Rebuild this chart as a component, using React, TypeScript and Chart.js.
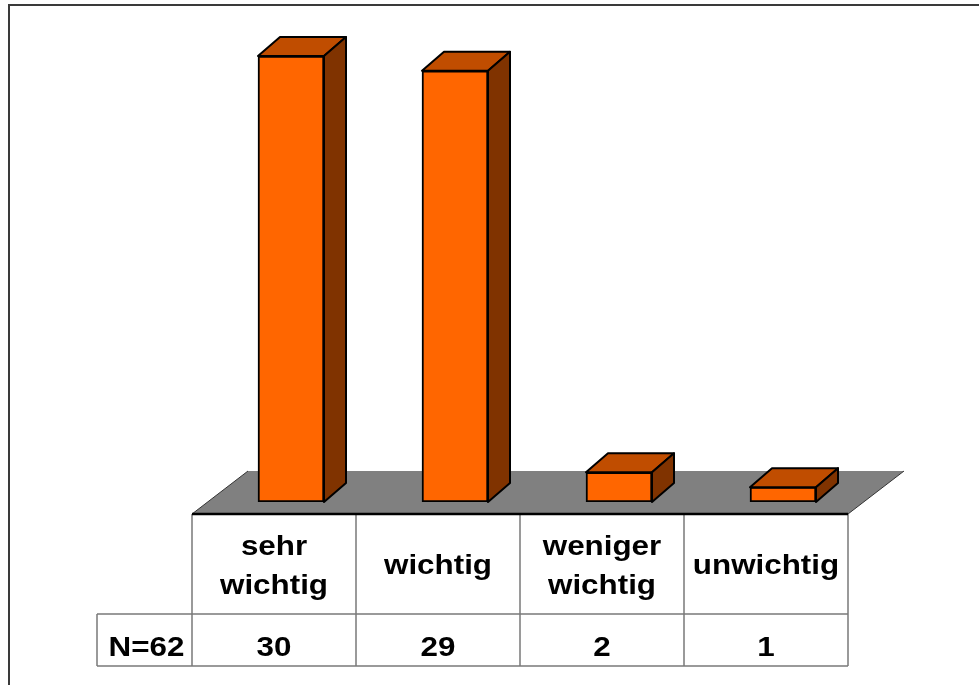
import React, { useEffect, useRef } from "react";
import { Chart, registerables } from "chart.js";

Chart.register(...registerables);

// Answer categories (multi-line labels as arrays) and response counts
const categories: (string | string[])[] = [["sehr", "wichtig"], "wichtig", ["weniger", "wichtig"], "unwichtig"];
const counts: number[] = [30, 29, 2, 1];
const sampleLabel = "N=62";

const FRONT = "#FF6600";
const TOP = "#C04D00";
const SIDE = "#803300";
const FLOOR = "#808080";
const GRID = "#7a7a7a";

// depth offsets for the pseudo-3D look
const BAR_DX = 22;
const BAR_DY = -19;
const FLOOR_DX = 56;
const FLOOR_DY = -43;
const FLOOR_FRONT_GAP = 12; // floor front edge below the bar bases
const FLOOR_SHIFT = 17; // floor/table shifted left of bar centres

const TEXT_FONT = "bold 28px 'Liberation Sans', Arial, sans-serif";
const TEXT_STRETCH = 1.12;

function drawText(ctx: CanvasRenderingContext2D, text: string, x: number, baseline: number) {
  ctx.save();
  ctx.translate(x, baseline);
  ctx.scale(TEXT_STRETCH, 1);
  ctx.font = TEXT_FONT;
  ctx.fillStyle = "#000";
  ctx.textAlign = "center";
  ctx.textBaseline = "alphabetic";
  ctx.fillText(text, 0, 0);
  ctx.restore();
}

const floorAndTable = {
  id: "floorAndTable",
  beforeDatasetsDraw(chart: any) {
    const { ctx, scales } = chart;
    const xs = scales.x;
    const ys = scales.y;
    const step = xs.getPixelForValue(1) - xs.getPixelForValue(0);
    const zero = ys.getPixelForValue(0);
    const fy = zero + FLOOR_FRONT_GAP;
    const left = xs.getPixelForValue(0) - FLOOR_SHIFT - step / 2;
    const right = xs.getPixelForValue(categories.length - 1) - FLOOR_SHIFT + step / 2;

    // outer frame
    ctx.save();
    ctx.strokeStyle = "#3a3a3a";
    ctx.lineWidth = 2;
    ctx.beginPath();
    ctx.moveTo(9, chart.height);
    ctx.lineTo(9, 5);
    ctx.lineTo(chart.width, 5);
    ctx.stroke();

    // grey floor
    ctx.fillStyle = FLOOR;
    ctx.strokeStyle = "#333";
    ctx.lineWidth = 1;
    ctx.beginPath();
    ctx.moveTo(left, fy);
    ctx.lineTo(left + FLOOR_DX, fy + FLOOR_DY);
    ctx.lineTo(right + FLOOR_DX, fy + FLOOR_DY);
    ctx.lineTo(right, fy);
    ctx.closePath();
    ctx.fill();
    ctx.beginPath();
    ctx.moveTo(left, fy);
    ctx.lineTo(left + FLOOR_DX, fy + FLOOR_DY);
    ctx.moveTo(right + FLOOR_DX, fy + FLOOR_DY);
    ctx.lineTo(right, fy);
    ctx.stroke();
    ctx.restore();
  },
  afterDatasetsDraw(chart: any) {
    const { ctx, scales } = chart;
    const xs = scales.x;
    const ys = scales.y;
    const meta = chart.getDatasetMeta(0);

    // top and side faces of each bar
    ctx.save();
    ctx.lineWidth = 2;
    ctx.strokeStyle = "#000";
    ctx.lineJoin = "round";
    meta.data.forEach((bar: any) => {
      const { x, y, base, width } = bar.getProps(["x", "y", "base", "width"], true);
      const xl = x - width / 2;
      const xr = x + width / 2;
      ctx.fillStyle = TOP;
      ctx.beginPath();
      ctx.moveTo(xl, y);
      ctx.lineTo(xl + BAR_DX, y + BAR_DY);
      ctx.lineTo(xr + BAR_DX, y + BAR_DY);
      ctx.lineTo(xr, y);
      ctx.closePath();
      ctx.fill();
      ctx.stroke();
      ctx.fillStyle = SIDE;
      ctx.beginPath();
      ctx.moveTo(xr, y);
      ctx.lineTo(xr + BAR_DX, y + BAR_DY);
      ctx.lineTo(xr + BAR_DX, base + BAR_DY);
      ctx.lineTo(xr, base);
      ctx.closePath();
      ctx.fill();
      ctx.stroke();
    });
    ctx.restore();

    // data table under the floor
    const step = xs.getPixelForValue(1) - xs.getPixelForValue(0);
    const zero = ys.getPixelForValue(0);
    const top = zero + FLOOR_FRONT_GAP;
    const mid = top + 100;
    const bottom = mid + 52;
    const left = xs.getPixelForValue(0) - FLOOR_SHIFT - step / 2;
    const right = xs.getPixelForValue(categories.length - 1) - FLOOR_SHIFT + step / 2;
    const labelLeft = left - 95;

    ctx.save();
    ctx.strokeStyle = GRID;
    ctx.lineWidth = 1.5;
    ctx.beginPath();
    ctx.moveTo(labelLeft, mid);
    ctx.lineTo(right, mid);
    ctx.moveTo(labelLeft, bottom);
    ctx.lineTo(right, bottom);
    ctx.moveTo(labelLeft, mid);
    ctx.lineTo(labelLeft, bottom);
    for (let i = 0; i <= categories.length; i++) {
      const cx = left + i * step;
      ctx.moveTo(cx, top);
      ctx.lineTo(cx, bottom);
    }
    ctx.stroke();
    // front edge of the floor
    ctx.strokeStyle = "#000";
    ctx.lineWidth = 2.5;
    ctx.beginPath();
    ctx.moveTo(left, top);
    ctx.lineTo(right, top);
    ctx.stroke();
    ctx.restore();

    const lineGap = 39;
    categories.forEach((cat, i) => {
      const cx = xs.getPixelForValue(i) - FLOOR_SHIFT;
      const lines = Array.isArray(cat) ? cat : [cat];
      const firstBase = top + 60 - ((lines.length - 1) * lineGap) / 2;
      lines.forEach((ln, j) => drawText(ctx, ln, cx, firstBase + j * lineGap));
      drawText(ctx, String(counts[i]), cx, mid + 42);
    });
    drawText(ctx, sampleLabel, (labelLeft + left) / 2 + 2, mid + 42);
  },
};

export default function App() {
  const canvasRef = useRef<HTMLCanvasElement | null>(null);

  useEffect(() => {
    const canvas = canvasRef.current;
    if (!canvas) return;
    const chart = new Chart(canvas, {
      type: "bar",
      data: {
        labels: categories,
        datasets: [
          {
            data: counts,
            backgroundColor: FRONT,
            borderColor: "#000",
            borderWidth: 2,
            borderSkipped: false,
            barThickness: 66,
          },
        ],
      },
      options: {
        responsive: false,
        animation: false,
        devicePixelRatio: 1,
        layout: { padding: { left: 209, right: 114, top: 56, bottom: 183 } },
        plugins: { legend: { display: false }, tooltip: { enabled: false } },
        scales: {
          x: { display: false, offset: true },
          y: { display: false, min: 0, max: 30 },
        },
      },
      plugins: [floorAndTable],
    });
    return () => chart.destroy();
  }, []);

  return (
    <div style={{ position: "absolute", left: 0, top: 0, width: 979, height: 685, background: "#fff" }}>
      <canvas ref={canvasRef} width={979} height={685} />
    </div>
  );
}
